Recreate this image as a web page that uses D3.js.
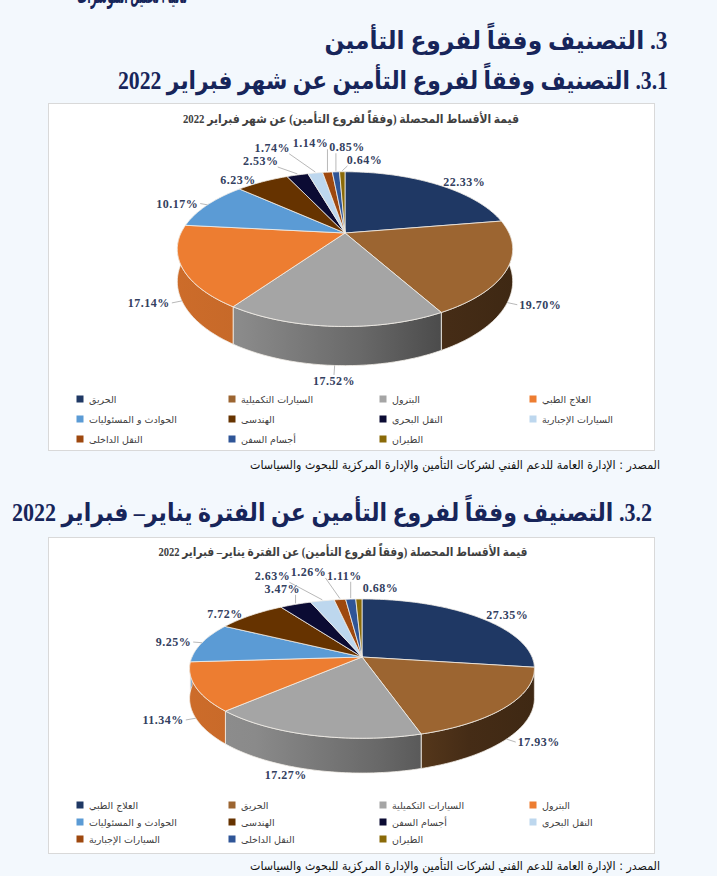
<!DOCTYPE html>
<html>
<head>
<meta charset="utf-8">
<script src="https://cdn.jsdelivr.net/npm/d3@7"></script>
<style>
body { margin: 0; background: #f3f8fd; }
svg { display: block; }
</style>
</head>
<body>
<div id="page"></div>
<script>
const W = 717, H = 876;

// slice colours, same order for both charts
const colors = ["#1f3864", "#9c6531", "#a5a5a5", "#ed7d31", "#5b9bd5", "#663300",
                "#0b0b33", "#bdd7ee", "#9e480e", "#2f5597", "#8a6a08"];

// February 2022
const febNames = ["الحريق", "السيارات التكميلية", "البترول", "العلاج الطبي",
                  "الحوادث و المسئوليات", "الهندسى", "النقل البحرى", "السيارات الإجبارية",
                  "النقل الداخلى", "أجسام السفن", "الطيران"];
const febShares = [22.33, 19.70, 17.52, 17.14, 10.17, 6.23, 2.53, 1.74, 1.14, 0.85, 0.64];

// January - February 2022
const ytdNames = ["العلاج الطبي", "الحريق", "السيارات التكميلية", "البترول",
                  "الحوادث و المسئوليات", "الهندسى", "أجسام السفن", "النقل البحرى",
                  "السيارات الإجبارية", "النقل الداخلى", "الطيران"];
const ytdShares = [27.35, 17.93, 17.27, 11.34, 9.25, 7.72, 3.47, 2.63, 1.26, 1.11, 0.68];

const navy = "#17255a";
const arabic = "'DejaVu Sans', sans-serif";
const serifAr = "'Liberation Serif', 'DejaVu Sans', serif";
const source = "المصدر : الإدارة العامة للدعم الفني لشركات التأمين والإدارة المركزية للبحوث والسياسات";

// fan used by Excel for the crowded small slices near the top (angle deg, radius / top offset)
const fanAngle = [-49.5, -40.5, -21, 1.4, 14.9];
const fanRadius = [1.81, 1.83, 1.57, 1.40, 1.235];

const svg = d3.select("#page").append("svg")
    .attr("width", W)
    .attr("height", H);
const defs = svg.append("defs");

// heading helper (rtl text centred on x)
function heading(x, y, txt, size, len, color, family) {
    const t = svg.append("text")
        .attr("x", x)
        .attr("y", y)
        .attr("direction", "rtl")
        .attr("text-anchor", "middle")
        .attr("dominant-baseline", "central")
        .attr("font-family", family || serifAr)
        .attr("font-weight", "bold")
        .attr("font-size", size)
        .attr("fill", color)
        .text(txt);
    if (len) t.attr("textLength", len).attr("lengthAdjust", "spacingAndGlyphs");
    return t;
}

heading(132, -5, "ثانياً : تحليل المؤشرات", 24, 110, navy);
heading(496, 40, "3.  التصنيف وفقاً لفروع التأمين", 25, 343, navy);
heading(393, 80, "3.1. التصنيف وفقاً لفروع التأمين عن شهر فبراير 2022", 25, 550, navy);
heading(332, 512, "3.2. التصنيف وفقاً لفروع التأمين عن الفترة يناير– فبراير 2022", 25, 640, navy);

// frames
svg.append("rect").attr("x", 48.5).attr("y", 103.5).attr("width", 606).attr("height", 347)
    .attr("fill", "#fff").attr("stroke", "#d9d9d9");
svg.append("rect").attr("x", 48.5).attr("y", 537.5).attr("width", 606).attr("height", 316)
    .attr("fill", "#fff").attr("stroke", "#d9d9d9");

heading(351, 119, "قيمة الأقساط المحصلة (وفقاً لفروع التأمين) عن شهر فبراير 2022", 12, 336, "#404040");
heading(343, 552, "قيمة الأقساط المحصلة (وفقاً لفروع التأمين) عن الفترة يناير– فبراير 2022", 12, 369, "#404040");

heading(455, 465, source, 12, 410, "#111", arabic).attr("font-weight", "normal");
heading(455, 866, source, 12, 410, "#111", arabic).attr("font-weight", "normal");

function drawPie(o, names, shares, id) {
    const g = svg.append("g");
    const slices = d3.pie().sort(null).value(d => d)(shares);

    const proj = (a, k, z) => {
        const u = k * Math.sin(a), v = -k * Math.cos(a);
        const p = o.D / (o.D - v);
        return [o.cx + o.R * u * p, o.cy + (o.Ry * v + z) * p];
    };
    const step = Math.PI / 180;
    const arcPts = (a0, a1, z) => {
        const n = Math.max(2, Math.ceil((a1 - a0) / step));
        return d3.range(n + 1).map(i => proj(a0 + (a1 - a0) * i / n, 1, z));
    };
    const line = d3.line();

    // side gradients: light on the left, dark on the right
    slices.forEach((s, i) => {
        const c = d3.color(colors[i]);
        const gr = defs.append("linearGradient")
            .attr("id", id + "g" + i)
            .attr("gradientUnits", "userSpaceOnUse")
            .attr("x1", o.cx - o.R * 1.05).attr("x2", o.cx + o.R * 1.05)
            .attr("y1", 0).attr("y2", 0);
        [[0, 0.4], [0.2, 0.5], [0.55, 1.3], [0.8, 2.3], [1, 2.6]].forEach(d => {
            gr.append("stop").attr("offset", d[0]).attr("stop-color", c.darker(d[1]));
        });
    });

    // outer wall, near half only
    slices.forEach((s, i) => {
        const a0 = Math.max(s.startAngle, Math.PI / 2);
        const a1 = Math.min(s.endAngle, Math.PI * 1.5);
        if (a1 <= a0) return;
        const pts = arcPts(a0, a1, 0).concat(arcPts(a0, a1, o.h).reverse());
        g.append("path")
            .attr("d", line(pts) + "Z")
            .attr("fill", `url(#${id}g${i})`)
            .attr("stroke", "#f3efe9")
            .attr("stroke-width", 0.8);
    });

    // top faces
    slices.forEach((s, i) => {
        const pts = [[o.cx, o.cy]].concat(arcPts(s.startAngle, s.endAngle, 0));
        g.append("path")
            .attr("d", line(pts) + "Z")
            .attr("fill", colors[i])
            .attr("stroke", "#f3efe9")
            .attr("stroke-width", 0.8)
            .attr("stroke-linejoin", "round");
    });

    // data labels
    const topOff = o.cy - proj(0, 1, 0)[1];
    const small = slices.filter(s => s.data < 5);
    const lab = g.append("g")
        .attr("font-family", "'Liberation Serif', serif")
        .attr("font-weight", "bold")
        .attr("font-size", 12)
        .attr("letter-spacing", 0.5)
        .attr("fill", "#334060");
    const leader = (x1, y1, x2, y2) => {
        if (Math.hypot(x2 - x1, y2 - y1) < 7) return;
        g.append("line").attr("x1", x1).attr("y1", y1).attr("x2", x2).attr("y2", y2)
            .attr("stroke", "#a6a6a6").attr("stroke-width", 0.8);
    };
    const halfW = 17;

    // small slices: fan them out, then slide left any that still collide
    const placed = small.map((s, j) => {
        const f = small.length > 1 ? j / (small.length - 1) : 0;
        const idx = Math.round(f * (fanAngle.length - 1));
        const phi = fanAngle[idx] * Math.PI / 180;
        const r = topOff * fanRadius[idx];
        return { s, x: o.cx + r * Math.sin(phi), y: o.cy - r * Math.cos(phi) };
    });
    for (let j = placed.length - 2; j >= 0; j--) {
        const a = placed[j];
        placed.slice(j + 1).forEach(b => {
            if (Math.abs(a.x - b.x) < 36 && Math.abs(a.y - b.y) < 12) a.x = Math.min(a.x, b.x - 36);
        });
    }
    placed.forEach(d => {
        const mid = (d.s.startAngle + d.s.endAngle) / 2;
        lab.append("text").attr("x", d.x).attr("y", d.y)
            .attr("text-anchor", "middle").attr("dominant-baseline", "central")
            .text(d3.format(".2f")(d.s.data) + "%");
        const e = proj(mid, 1, 0);
        const sx = d.x + Math.max(-halfW, Math.min(halfW, e[0] - d.x));
        leader(sx, d.y + 6, e[0], e[1] - 1);
    });

    slices.filter(s => s.data >= 5).forEach(s => {
        const mid = (s.startAngle + s.endAngle) / 2;
        const near = Math.cos(mid) < 0;
        const z = near ? o.h : 0;
        const u = Math.sin(mid);
        const p = proj(mid, 1.05, z);
        const e = proj(mid, 1, z);
        let anchor = "middle", x = p[0], y = p[1];
        if (u > 0.2) { anchor = "start"; x += 3; }
        else if (u < -0.2) { anchor = "end"; x -= 3; }
        else { y += near ? 9 : -8; }
        lab.append("text").attr("x", x).attr("y", y)
            .attr("text-anchor", anchor).attr("dominant-baseline", "central")
            .text(d3.format(".2f")(s.data) + "%");
        const ex = anchor === "start" ? x - 2 : anchor === "end" ? x + 2 : x;
        const ey = anchor === "middle" ? y + (near ? -6 : 6) : y;
        leader(e[0], e[1], ex, ey);
    });

    // legend
    const cols = [80, 232, 383, 533];
    const lg = svg.append("g")
        .attr("font-family", arabic)
        .attr("font-size", 9.5)
        .attr("fill", "#404040");
    names.forEach((nm, i) => {
        const x = cols[i % 4], y = o.legendY + Math.floor(i / 4) * o.legendDy;
        lg.append("rect").attr("x", x - 3.5).attr("y", y - 3.5)
            .attr("width", 7).attr("height", 7).attr("fill", colors[i]);
        lg.append("text").attr("x", x + 9).attr("y", y)
            .attr("dominant-baseline", "central")
            .text(nm);
    });
}

drawPie({ cx: 345, cy: 233, R: 164, Ry: 74, D: 4.8, h: 31, legendY: 399, legendDy: 20 },
        febNames, febShares, "feb");
drawPie({ cx: 362, cy: 657, R: 170, Ry: 67.7, D: 6, h: 29, legendY: 805, legendDy: 17 },
        ytdNames, ytdShares, "ytd");
</script>
</body>
</html>
